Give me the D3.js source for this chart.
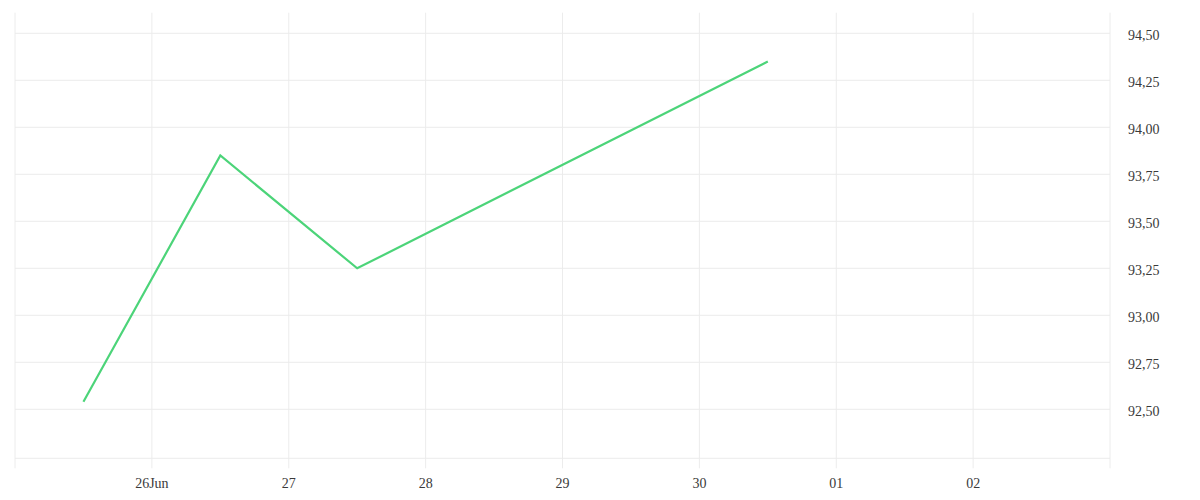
<!DOCTYPE html>
<html><head><meta charset="utf-8">
<script src="https://cdn.jsdelivr.net/npm/d3@7/dist/d3.min.js"></script>
<style>body{margin:0;background:#fff}svg{display:block}</style>
</head><body><svg id="c" width="1200" height="500"></svg>
<script>
const dates = ["2024-06-25T12:00","2024-06-26T12:00","2024-06-27T12:00","2024-06-30T12:00"];
const values = [92.54, 93.85, 93.25, 94.35];
const xTickDates = ["2024-06-26","2024-06-27","2024-06-28","2024-06-29","2024-06-30","2024-07-01","2024-07-02"];
const xTickLabels = ["26Jun","27","28","29","30","01","02"];
const yTicks = [92.5, 92.75, 93.0, 93.25, 93.5, 93.75, 94.0, 94.25, 94.5];

const parse = d3.timeParse("%Y-%m-%dT%H:%M");
const parseDay = d3.timeParse("%Y-%m-%d");
const svg = d3.select("#c");
const L = 15, R = 1110, T = 12.7, B = 458.3;
const x = d3.scaleTime().domain([parseDay("2024-06-25"), parseDay("2024-07-03")]).range([L, R]);
const yBase = d3.scaleLinear().domain([92.5, 94.5]).range([409.3, 33.3]);
const y = d3.scaleLinear().domain([yBase.invert(B), yBase.invert(T)]).range([B, T]);

const grid = "#ececec";
const g = svg.append("g");
const vx = [parseDay("2024-06-25"), ...xTickDates.map(parseDay), parseDay("2024-07-03")];
g.selectAll("line.v").data(vx).join("line")
  .attr("x1", d => x(d)).attr("x2", d => x(d)).attr("y1", T).attr("y2", B + 10)
  .attr("stroke", grid).attr("stroke-width", 1);
g.selectAll("line.h").data(yTicks).join("line")
  .attr("x1", L).attr("x2", R).attr("y1", d => y(d)).attr("y2", d => y(d))
  .attr("stroke", grid).attr("stroke-width", 1);
g.append("line").attr("x1", L).attr("x2", R).attr("y1", B).attr("y2", B)
  .attr("stroke", grid).attr("stroke-width", 1);

const font = "'Liberation Serif', serif";
const fmt = v => d3.format(".2f")(v).replace(".", ",");
svg.selectAll("text.y").data(yTicks).join("text")
  .attr("x", 1128).attr("y", d => y(d) + 1.5).attr("dy", "0.35em")
  .attr("font-family", font).attr("font-size", 14).attr("fill", "#3a3a3a")
  .text(fmt);
svg.selectAll("text.x").data(xTickDates).join("text")
  .attr("x", d => x(parseDay(d))).attr("y", 488).attr("text-anchor", "middle")
  .attr("font-family", font).attr("font-size", 14).attr("fill", "#3a3a3a")
  .text((d, i) => xTickLabels[i]);

const pts = dates.map((d, i) => [parse(d), values[i]]);
svg.append("path").datum(pts)
  .attr("d", d3.line().x(d => x(d[0])).y(d => y(d[1])))
  .attr("fill", "none").attr("stroke", "#4cd479").attr("stroke-width", 2.2);
</script></body></html>
